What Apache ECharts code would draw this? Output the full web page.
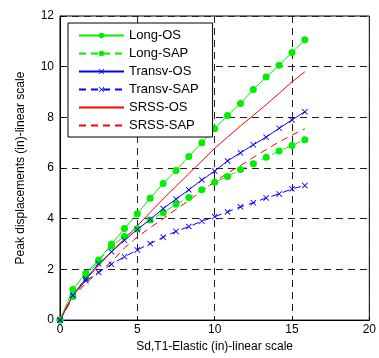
<!DOCTYPE html>
<html>
<head>
<meta charset="utf-8">
<script src="https://cdn.jsdelivr.net/npm/echarts@6/dist/echarts.min.js"></script>
<style>
  html, body { margin: 0; padding: 0; background: #fff; }
  #chart { width: 379px; height: 358px; }
</style>
</head>
<body>
<div id="chart"></div>
<script>
// Sd,T1 elastic (in)
const sdElastic = [0, 0.83, 1.67, 2.5, 3.33, 4.17, 5, 5.83, 6.67, 7.5, 8.33, 9.17, 10, 10.83, 11.67, 12.5, 13.33, 14.17, 15, 15.83];

// peak displacements (in)
const longOS    = [0, 1.21, 1.85, 2.37, 3.0, 3.61, 4.2, 4.81, 5.39, 5.9, 6.46, 7.0, 7.55, 8.07, 8.55, 9.1, 9.59, 10.06, 10.56, 11.06];
const longSAP   = [0, 0.93, 1.72, 2.32, 2.92, 3.3, 3.6, 3.95, 4.24, 4.57, 4.84, 5.14, 5.44, 5.67, 5.94, 6.17, 6.43, 6.67, 6.89, 7.12];
const transvOS  = [0, 0.98, 1.63, 2.22, 2.7, 3.15, 3.58, 3.97, 4.4, 4.77, 5.14, 5.53, 5.88, 6.28, 6.6, 6.92, 7.22, 7.57, 7.9, 8.22];
const transvSAP = [0, 0.97, 1.55, 1.88, 2.2, 2.5, 2.77, 3.02, 3.27, 3.5, 3.69, 3.9, 4.08, 4.27, 4.47, 4.63, 4.82, 4.98, 5.18, 5.31];
const srssOS    = [0, 0.95, 1.6, 2.15, 2.7, 3.2, 3.72, 4.25, 4.78, 5.28, 5.78, 6.28, 6.78, 7.22, 7.66, 8.08, 8.5, 8.95, 9.4, 9.8];
const srssSAP   = [0, 0.9, 1.45, 1.9, 2.3, 2.85, 3.28, 3.65, 4.0, 4.37, 4.72, 5.1, 5.46, 5.8, 6.1, 6.42, 6.73, 7.03, 7.3, 7.55];

const yTicks = [0, 2, 4, 6, 8, 10, 12];
const xTicks = [0, 5, 10, 15, 20];
const legendNames = ['Long-OS', 'Long-SAP', 'Transv-OS', 'Transv-SAP', 'SRSS-OS', 'SRSS-SAP'];

const FONT = 'Liberation Sans, Arial, sans-serif';
const GREEN = '#00ee00';
const BLUE = '#0000ff';
const RED = '#ff0000';
const CROSS = 'path://M0,1L1,0L5,4L9,0L10,1L6,5L10,9L9,10L5,6L1,10L0,9L4,5Z';
const DASH = [7, 5];

const pairs = ys => sdElastic.map((x, i) => [x, ys[i]]);

function mk(name, ys, color, dashed, symbol, size) {
  return {
    name: name,
    type: 'line',
    data: pairs(ys),
    symbol: symbol || 'none',
    symbolSize: size || 0,
    showSymbol: !!symbol,
    animation: false,
    lineStyle: { color: color, width: 1, type: dashed ? DASH : 'solid' },
    itemStyle: { color: color, borderWidth: 0 },
    emphasis: { disabled: true }
  };
}

// legend entries: SRSS lines carry no marker
const legendData = legendNames.map(n => n.indexOf('SRSS') === 0
  ? { name: n, itemStyle: { opacity: 0 } }
  : { name: n });

const chart = echarts.init(document.getElementById('chart'));
chart.setOption({
  animation: false,
  textStyle: { fontFamily: FONT },
  grid: {
    left: 60, right: 3, top: 16, bottom: 33,
    show: true, borderColor: '#000', borderWidth: 1
  },
  legend: {
    orient: 'vertical',
    left: 68, top: 23,
    padding: [5, 14, 4, 10],
    itemGap: 3,
    itemWidth: 45,
    itemHeight: 7,
    backgroundColor: '#fff',
    borderColor: '#000',
    borderWidth: 1,
    textStyle: { fontSize: 13, color: '#000', fontFamily: FONT, lineHeight: 15 },
    data: legendData
  },
  xAxis: {
    type: 'value',
    min: xTicks[0], max: xTicks[xTicks.length - 1], interval: 5,
    name: 'Sd,T1-Elastic (in)-linear scale',
    nameLocation: 'middle', nameGap: 17,
    nameTextStyle: { fontSize: 12, color: '#000' },
    axisLine: { lineStyle: { color: '#000' } },
    axisTick: { inside: true, length: 4, lineStyle: { color: '#000' } },
    axisLabel: { fontSize: 12, color: '#000', margin: 4 },
    splitLine: { show: true, lineStyle: { color: '#222', type: DASH, width: 1 } }
  },
  yAxis: {
    type: 'value',
    min: yTicks[0], max: yTicks[yTicks.length - 1], interval: 2,
    name: 'Peak displacements (in)-linear scale',
    nameLocation: 'middle', nameGap: 33, nameRotate: 90,
    nameTextStyle: { fontSize: 12, color: '#000' },
    axisLine: { lineStyle: { color: '#000' } },
    axisTick: { inside: true, length: 4, lineStyle: { color: '#000' } },
    axisLabel: { fontSize: 12, color: '#000', margin: 6 },
    splitLine: { show: true, lineStyle: { color: '#222', type: DASH, width: 1 } }
  },
  series: [
    mk('Long-OS', longOS, GREEN, false, 'circle', 7),
    mk('Long-SAP', longSAP, GREEN, true, 'circle', 7),
    mk('Transv-OS', transvOS, BLUE, false, CROSS, 6),
    mk('Transv-SAP', transvSAP, BLUE, true, CROSS, 6),
    mk('SRSS-OS', srssOS, RED, false),
    mk('SRSS-SAP', srssSAP, RED, true)
  ]
});
</script>
</body>
</html>
